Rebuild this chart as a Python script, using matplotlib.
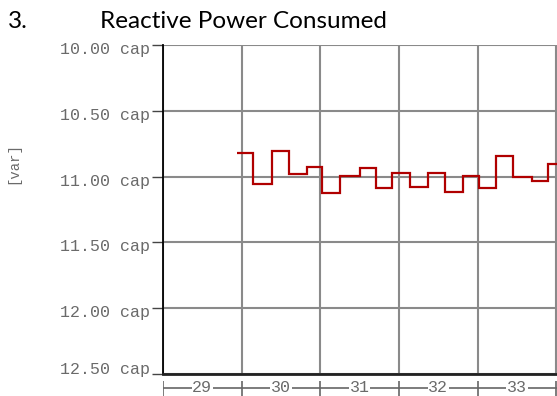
import matplotlib.pyplot as plt
import matplotlib.transforms as mtransforms

# Data
days = [29, 30, 31, 32, 33, 34]
day_labels = ["29", "30", "31", "32", "33"]
y_ticks = [10.0, 10.5, 11.0, 11.5, 12.0, 12.5]
y_tick_labels = ["10.00 cap", "10.50 cap", "11.00 cap", "11.50 cap", "12.00 cap", "12.50 cap"]

# step edges (day units) and the value held over each step
step_edges = [29.936, 30.147, 30.380, 30.600, 30.825, 31.016, 31.248, 31.502,
              31.714, 31.917, 32.137, 32.369, 32.581, 32.814, 33.017, 33.229,
              33.449, 33.695, 33.893, 34.100]
step_values = [10.823, 11.058, 10.803, 10.980, 10.925, 11.127, 10.993, 10.937,
               11.089, 10.975, 11.081, 10.975, 11.115, 10.993, 11.089, 10.843,
               11.001, 11.033, 10.904]

W, H = 557, 396
fig = plt.figure(figsize=(W / 100, H / 100), dpi=100)

mono = "Liberation Mono"
label_color = "#6a6a6a"
grid_color = "#8a8a8a"

# ------- main plot area
ax = fig.add_axes([163 / W, 1 - 374 / H, 1 - 163 / W, (374 - 45) / H])
ax.set_xlim(29, 34.01)
ax.set_ylim(12.5, 10.0)

ax.set_xticks(days)
ax.set_xticklabels([])
ax.tick_params(axis="x", length=0)

ax.set_yticks(y_ticks)
ax.set_yticklabels(y_tick_labels, fontfamily=mono, fontsize=12, color=label_color)
ax.tick_params(axis="y", length=8, width=1, color="#444444", pad=1.5)

ax.grid(True, color=grid_color, linewidth=1.5)
ax.set_axisbelow(True)

for side in ["top", "right"]:
    ax.spines[side].set_visible(False)
ax.spines["left"].set_color("black")
ax.spines["left"].set_linewidth(1.3)
ax.spines["bottom"].set_color("#222222")
ax.spines["bottom"].set_linewidth(2)

# shift labels so they hang below their tick like the original
for i, lbl in enumerate(ax.get_yticklabels()):
    if i < len(y_ticks) - 1:
        lbl.set_verticalalignment("top")
        off = mtransforms.ScaledTranslation(0, 3 / 100, fig.dpi_scale_trans)
    else:
        lbl.set_verticalalignment("baseline")
        off = mtransforms.ScaledTranslation(0, 0, fig.dpi_scale_trans)
    lbl.set_transform(lbl.get_transform() + off)

ax.stairs(step_values, step_edges, baseline=None, color="#b00000", linewidth=1.6)

ax.set_ylabel("[var]", fontfamily=mono, fontsize=10, color=label_color)
ax.yaxis.set_label_coords(-0.362, 0.64)

# ------- separate day axis under the plot
axd = fig.add_axes([163 / W, 0, 1 - 163 / W, (396 - 381) / H], sharex=ax)
axd.set_ylim(-1.2, 1.0)
axd.axis("off")
axd.axhline(0, color="#666666", linewidth=1.2)
axd.vlines(days, -1.2, 1.0, color="#666666", linewidth=1.2)
for d, lab in zip(days, day_labels):
    axd.text(d + 0.5, 0, lab, ha="center", va="center", fontfamily=mono,
             fontsize=12, color=label_color,
             bbox=dict(facecolor="white", edgecolor="none", pad=0.5))

# ------- title
fig.text(8 / W, 1 - 21 / H, "3.", fontfamily="Lato", fontsize=17.5, va="center")
fig.text(100 / W, 1 - 21 / H, "Reactive Power Consumed", fontfamily="Lato",
         fontsize=17.5, va="center")

fig.savefig("out.png", dpi=100)
